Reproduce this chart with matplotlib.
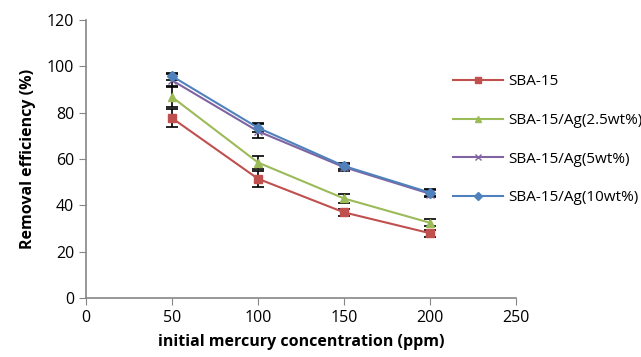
import matplotlib
matplotlib.use("Agg")
import matplotlib.pyplot as plt

conc = [50, 100, 150, 200]
sba15 = [77.7, 51.5, 37.0, 28.0]
sba15_err = [4.0, 3.5, 1.5, 1.5]
ag25 = [86.8, 58.5, 43.0, 32.5]
ag25_err = [4.5, 3.0, 2.0, 1.5]
ag5 = [94.0, 72.0, 56.5, 45.0]
ag5_err = [2.5, 3.0, 1.5, 1.5]
ag10 = [95.8, 73.5, 57.0, 45.5]
ag10_err = [1.5, 2.0, 1.5, 1.5]

series = [
    ("SBA-15", sba15, sba15_err, "#c0504d", "s", 6),
    ("SBA-15/Ag(2.5wt%)", ag25, ag25_err, "#9bbb59", "^", 6),
    ("SBA-15/Ag(5wt%)", ag5, ag5_err, "#8064a2", "x", 6),
    ("SBA-15/Ag(10wt%)", ag10, ag10_err, "#4f81bd", "D", 5),
]

plt.rcParams['font.family'] = ['Open Sans', 'DejaVu Sans']

fig = plt.figure(figsize=(6.41, 3.57), dpi=100)
ax = fig.add_axes([0.134, 0.165, 0.671, 0.779])

for label, vals, err, color, marker, ms in series:
    ax.errorbar(conc, vals, yerr=err, color=color, marker=marker, markersize=ms,
                linewidth=1.5, ecolor="black", elinewidth=1.2, capsize=4,
                capthick=1.2, label=label, zorder=3)

ax.set_xlim(0, 250)
ax.set_ylim(0, 120)
ax.set_xticks([0, 50, 100, 150, 200, 250])
ax.set_yticks([0, 20, 40, 60, 80, 100, 120])
ax.tick_params(labelsize=11.5, color="#868686", length=5)
for s in ["top", "right"]:
    ax.spines[s].set_visible(False)
for s in ["left", "bottom"]:
    ax.spines[s].set_color("#868686")
    ax.spines[s].set_linewidth(1.2)

ax.set_xlabel("initial mercury concentration (ppm)", fontsize=11.5, fontweight="bold", labelpad=6)
ax.set_ylabel("Removal efficiency (%)", fontsize=11.5, fontweight="bold", labelpad=8)

# legend uses plain line handles without error bars
handles, labels = ax.get_legend_handles_labels()
handles = [h[0] for h in handles]
fig.legend(handles, labels, loc="upper left", bbox_to_anchor=(0.685, 0.83),
           frameon=False, fontsize=11, labelspacing=1.55, handlelength=3.3,
           handletextpad=0.3, markerscale=0.8)

fig.savefig("out.png", dpi=100)
